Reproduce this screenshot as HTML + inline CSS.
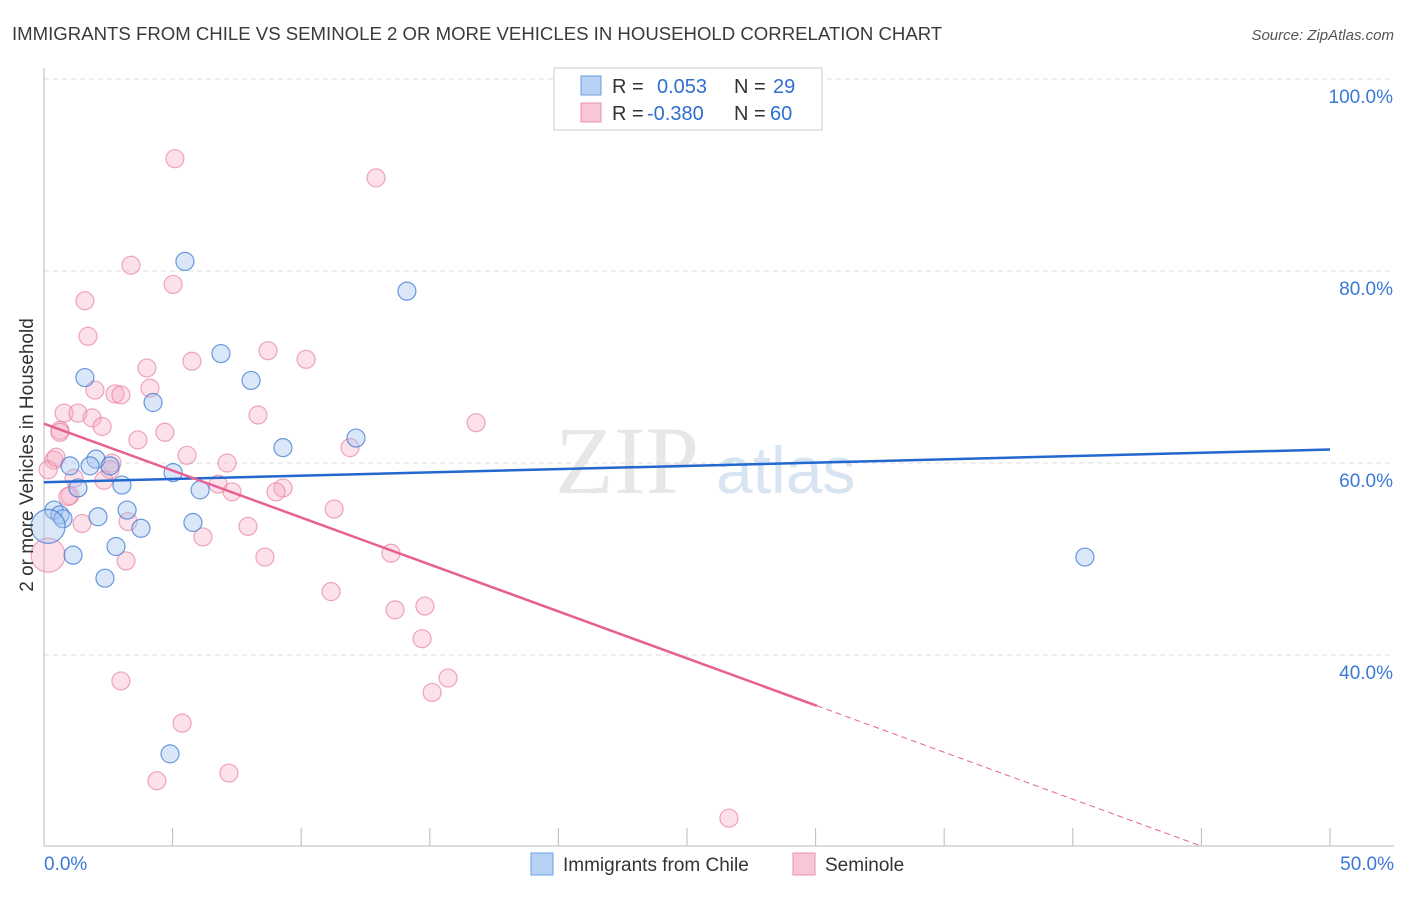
<!DOCTYPE html>
<html><head><meta charset="utf-8"><style>
body{margin:0;background:#fff;font-family:"Liberation Sans",sans-serif;}
</style></head><body>
<svg id="chart" width="1406" height="892" xmlns="http://www.w3.org/2000/svg" font-family="Liberation Sans, sans-serif">
<text x="12" y="40" font-size="18.6" fill="#3a3a3a">IMMIGRANTS FROM CHILE VS SEMINOLE 2 OR MORE VEHICLES IN HOUSEHOLD CORRELATION CHART</text>
<text x="1394" y="40" font-size="15" fill="#555" font-style="italic" text-anchor="end">Source: ZipAtlas.com</text>
<text x="555" y="493" font-size="96" fill="#d4d4d4" font-family="Liberation Serif, serif" opacity="0.55">ZIP</text>
<text x="716" y="493" font-size="66" fill="#b8cfe8" opacity="0.55">atlas</text>
<g id="grid"></g>
<g id="axes"></g>
<g id="marks"></g>
<text transform="translate(33,455) rotate(-90)" font-size="19" fill="#333" text-anchor="middle">2 or more Vehicles in Household</text>
<g>
<rect x="554" y="68" width="268" height="62" fill="#fff" stroke="#ccc"/>
<rect x="581" y="76" width="20" height="19" fill="#b7d2f5" stroke="#6b9ee0"/>
<text x="612" y="93" font-size="20" fill="#333">R = <tspan fill="#2f6fd0" x="657">0.053</tspan><tspan x="734" fill="#333">N = </tspan><tspan fill="#2f6fd0" x="773">29</tspan></text>
<rect x="581" y="103" width="20" height="19" fill="#f8c6d4" stroke="#e890aa"/>
<text x="612" y="120" font-size="20" fill="#333">R = <tspan fill="#2f6fd0" x="647">-0.380</tspan><tspan x="734" fill="#333">N = </tspan><tspan fill="#2f6fd0" x="770">60</tspan></text>
</g>
<g>
<rect x="531" y="853" width="22" height="22" fill="#b7d2f5" stroke="#6b9ee0"/>
<text x="563" y="871" font-size="19" fill="#333">Immigrants from Chile</text>
<rect x="793" y="853" width="22" height="22" fill="#f8c6d4" stroke="#e890aa"/>
<text x="825" y="871" font-size="19" fill="#333">Seminole</text>
</g>
</svg>
<script>
const blueX=[5.48,14.11,6.88,8.05,1.59,4.24,9.29,12.13,1.01,2.02,1.79,1.32,3.03,5.02,6.07,0.39,0.62,0.74,2.10,3.23,3.77,5.79,2.80,1.13,2.37,4.90,40.47,0.16,2.57];
const blueY=[81.0,77.9,71.4,68.6,68.9,66.3,61.6,62.6,59.7,60.4,59.7,57.4,57.7,59.0,57.2,55.1,54.6,54.2,54.4,55.1,53.2,53.8,51.3,50.4,48.0,29.7,50.2,53.4,59.7];
const pinkX=[5.09,12.91,3.38,5.02,1.59,1.71,8.71,10.19,5.75,4.00,4.12,1.98,2.76,2.99,0.78,1.32,1.87,8.32,16.80,0.62,2.26,4.70,3.65,0.39,11.90,5.56,7.12,2.64,2.57,1.17,6.77,2.33,7.31,1.01,9.29,9.02,0.93,11.28,3.27,1.48,7.93,6.18,8.59,3.19,13.49,0.16,11.16,13.65,14.81,14.70,15.71,15.09,2.99,5.37,4.39,7.19,26.63,0.16,0.47,0.62];
const pinkY=[91.7,89.7,80.6,78.6,76.9,73.2,71.7,70.8,70.6,69.9,67.8,67.6,67.2,67.1,65.2,65.2,64.7,65.0,64.2,63.4,63.8,63.2,62.4,60.3,61.6,60.8,60.0,60.0,59.3,58.4,57.8,58.2,57.0,56.6,57.4,57.0,56.5,55.2,53.9,53.7,53.4,52.3,50.2,49.8,50.6,50.4,46.6,44.7,45.1,41.7,37.6,36.1,37.3,32.9,26.9,27.7,23.0,59.3,60.6,63.2];
const blueBig=[27];
const pinkBig=[45];
const blueTrend=[58.0,61.4];
const pinkTrend=[64.1,15.2];
const yTicks=[40,60,80,100];
const xTickLabels=["0.0%","50.0%"];
const NS="http://www.w3.org/2000/svg";
const sx=v=>44+v*25.72;
const sy=v=>79+(100-v)*9.6;
function mk(tag,attrs,parent){const e=document.createElementNS(NS,tag);for(const k in attrs)e.setAttribute(k,attrs[k]);document.getElementById(parent).appendChild(e);return e;}
yTicks.forEach(t=>{
 const l=mk('line',{x1:44,x2:1394,y1:sy(t),y2:sy(t),stroke:'#ddd','stroke-dasharray':'5,4'},'grid');
 
 
 const tx=mk('text',{x:1393,y:sy(t)+24,'font-size':19,fill:'#3b78d8','text-anchor':'end'},'axes');
 tx.textContent=t.toFixed(1)+'%';
 
 
});
mk('line',{x1:44,x2:44,y1:68,y2:846,stroke:'#bbb'},'axes');
mk('line',{x1:44,x2:1394,y1:846,y2:846,stroke:'#bbb'},'axes');
for(let i=0;i<=10;i++){const x=sx(i*5);mk('line',{x1:x,x2:x,y1:828,y2:846,stroke:'#bbb'},'axes');}
const x0=mk('text',{x:44,y:870,'font-size':19,fill:'#3b78d8'},'axes');x0.textContent=xTickLabels[0];


const x1=mk('text',{x:1394,y:870,'font-size':19,fill:'#3b78d8','text-anchor':'end'},'axes');x1.textContent=xTickLabels[1];


pinkX.forEach((x,i)=>{const c=mk('circle',{cx:sx(x),cy:sy(pinkY[i]),r:pinkBig.includes(i)?17:9,fill:'rgba(245,170,195,0.35)',stroke:'rgba(232,130,160,0.7)','stroke-width':1.2},'marks');
 
 });
blueX.forEach((x,i)=>{const c=mk('circle',{cx:sx(x),cy:sy(blueY[i]),r:blueBig.includes(i)?17:9,fill:'rgba(160,195,240,0.4)',stroke:'rgba(60,120,210,0.75)','stroke-width':1.2},'marks');
 
 });
const bl=mk('line',{x1:sx(0),y1:sy(blueTrend[0]),x2:sx(50),y2:sy(blueTrend[1]),stroke:'#2268d0','stroke-width':2.5},'marks');


const pAt=x=>pinkTrend[0]+(pinkTrend[1]-pinkTrend[0])*x/50;
const pl=mk('line',{x1:sx(0),y1:sy(pAt(0)),x2:sx(30.05),y2:sy(pAt(30.05)),stroke:'#e8608f','stroke-width':2.5},'marks');


const pd=mk('line',{x1:sx(30.05),y1:sy(pAt(30.05)),x2:sx(44.95),y2:sy(pAt(44.95)),stroke:'#e8608f','stroke-width':1,'stroke-dasharray':'6,4'},'marks');


</script>
</body></html>
